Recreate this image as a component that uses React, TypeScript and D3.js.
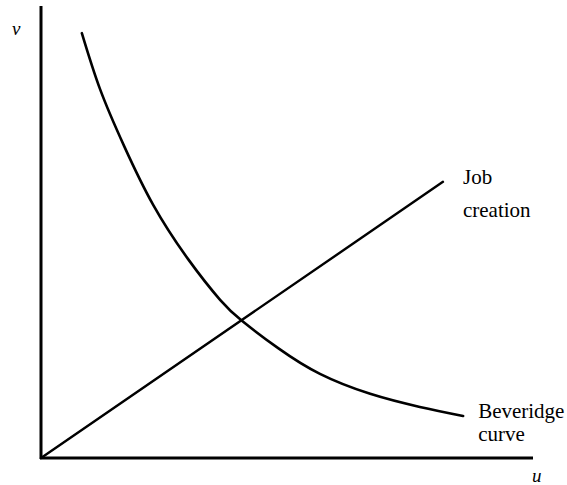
import React, { useEffect, useRef } from 'react';
import * as d3 from 'd3';

// Beveridge curve (u, v)
const beveridgeU = [0.83, 1.2, 1.69, 2.28, 2.99, 3.64, 4.09, 4.82, 5.67, 6.69, 7.7, 8.58];
const beveridgeV = [9.4, 8.16, 6.9, 5.6, 4.4, 3.5, 3.03, 2.43, 1.86, 1.42, 1.13, 0.93];

// Job creation line, straight from the origin
const jobU = [0, 8.17];
const jobV = [0, 6.11];

const axisLabels = { x: 'u', y: 'v' };
const jobLabel = ['Job', 'creation'];
const beveridgeLabel = ['Beveridge', 'curve'];

const App = () => {
    const svgRef = useRef<SVGSVGElement>(null);

    useEffect(() => {
        const width = 567;
        const height = 485;
        const svg = d3.select(svgRef.current)
            .attr('width', width)
            .attr('height', height);

        svg.selectAll('*').remove();

        const x = d3.scaleLinear().domain([0, 10]).range([41, 533]);
        const y = d3.scaleLinear().domain([0, 10]).range([458, 6]);

        const line = d3.line<[number, number]>()
            .x(d => x(d[0]))
            .y(d => y(d[1]));

        // axes
        svg.append('line')
            .attr('x1', x(0)).attr('x2', x(0))
            .attr('y1', y(0) + 1).attr('y2', y(10))
            .attr('stroke', '#000').attr('stroke-width', 3);
        svg.append('line')
            .attr('x1', x(0) - 1).attr('x2', x(10))
            .attr('y1', y(0)).attr('y2', y(0))
            .attr('stroke', '#000').attr('stroke-width', 3);

        const bev: [number, number][] = beveridgeU.map((u, i) => [u, beveridgeV[i]]);
        svg.append('path')
            .attr('d', line.curve(d3.curveNatural)(bev))
            .attr('fill', 'none')
            .attr('stroke', '#000')
            .attr('stroke-width', 2.6)
            .attr('stroke-linecap', 'round');

        const job: [number, number][] = jobU.map((u, i) => [u, jobV[i]]);
        svg.append('path')
            .attr('d', line.curve(d3.curveLinear)(job))
            .attr('fill', 'none')
            .attr('stroke', '#000')
            .attr('stroke-width', 2.4)
            .attr('stroke-linecap', 'round');

        const serif = '"Liberation Serif", "DejaVu Serif", serif';

        svg.append('text')
            .attr('x', 12).attr('y', 35)
            .style('font-family', serif).style('font-style', 'italic').style('font-size', '19px')
            .text(axisLabels.y);
        svg.append('text')
            .attr('x', 532).attr('y', 482)
            .style('font-family', serif).style('font-style', 'italic').style('font-size', '19px')
            .text(axisLabels.x);

        const jx = x(jobU[1]) + 20;
        const jy = y(jobV[1]);
        svg.append('text').attr('x', jx).attr('y', jy + 2)
            .style('font-family', serif).style('font-size', '21px')
            .text(jobLabel[0]);
        svg.append('text').attr('x', jx).attr('y', jy + 35)
            .style('font-family', serif).style('font-size', '21px')
            .text(jobLabel[1]);

        const last = beveridgeU.length - 1;
        const bx = x(beveridgeU[last]) + 15;
        const by = y(beveridgeV[last]);
        svg.append('text').attr('x', bx).attr('y', by + 2)
            .style('font-family', serif).style('font-size', '21px')
            .text(beveridgeLabel[0]);
        svg.append('text').attr('x', bx).attr('y', by + 25)
            .style('font-family', serif).style('font-size', '21px')
            .text(beveridgeLabel[1]);
    }, []);

    return (
        <svg
            ref={svgRef}
            style={{ position: 'absolute', left: 0, top: 0, background: '#fff' }}
        ></svg>
    );
};

export default App;
